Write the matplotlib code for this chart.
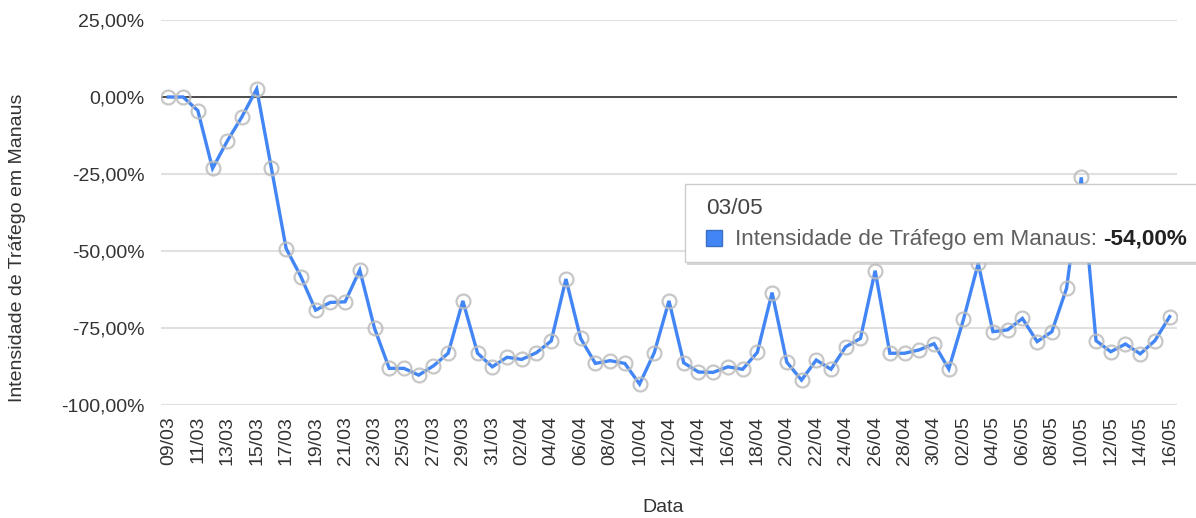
import matplotlib
matplotlib.use("Agg")
import matplotlib.pyplot as plt
import matplotlib.ticker as mticker
from matplotlib.patches import Rectangle
import pandas as pd

# ---- data ----
dates = pd.date_range("2020-03-09", "2020-05-16", freq="D")
labels = [d.strftime("%d/%m") for d in dates]

march = [0.0, 0.0, -4.4, -23.2, -14.3, -6.4, 2.6, -23.2, -49.2, -58.3, -69.2, -66.7,
         -66.5, -56.2, -75.1, -88.1, -88.1, -90.3, -87.3, -83.2, -66.2, -83.2, -87.6]
april = [-84.5, -85.2, -83.0, -79.2, -59.1, -78.4, -86.5, -85.6, -86.5, -93.2, -83.0,
         -66.2, -86.3, -89.3, -89.4, -87.6, -88.4, -82.9, -63.5, -86.1, -91.9, -85.4,
         -88.4, -81.1, -78.4, -56.4, -83.2, -83.2, -82.1, -80.1]
may = [-88.3, -72.2, -54.0, -76.2, -75.6, -71.9, -79.4, -76.2, -62.1, -26.1, -79.1,
       -82.7, -80.2, -83.4, -79.1, -71.3]
values = march + april + may

yticks = [25, 0, -25, -50, -75, -100]
series_name = "Intensidade de Tráfego em Manaus"
tooltip_date = "03/05"
tooltip_value = "-54,00%"

BLUE = "#4285F4"
FONT = "Liberation Sans"
TXT = "#333333"

fig = plt.figure(figsize=(11.96, 5.18), dpi=100)
W, H = 1196, 518
ax = fig.add_axes([161 / W, 1 - 405 / H, (1177 - 161) / W, (405 - 20) / H])

x = list(range(len(values)))
ax.plot(x, values, color=BLUE, lw=2.4, zorder=3, solid_joinstyle="miter")
ax.plot(x, values, ls="none", marker="o", ms=10, mfc="none", mec="#bdbdbd",
        mew=1.6, alpha=0.85, zorder=4)

ax.set_xlim(-0.5, len(values) - 0.5)
ax.set_ylim(-100, 25)
ax.set_yticks(yticks)
ax.yaxis.set_major_formatter(mticker.FuncFormatter(
    lambda v, p: f"{v:.2f}".replace(".", ",") + "%"))
ax.set_xticks(x[::2])
ax.set_xticklabels(labels[::2], rotation=90, fontsize=14, family=FONT, color=TXT)
for t in ax.get_yticklabels():
    t.set_fontsize(14)
    t.set_family(FONT)
    t.set_color(TXT)

ax.grid(axis="y", color="#e0e0e0", lw=1.5, zorder=0)
ax.axhline(0, color="#333333", lw=1.2, zorder=2)
for s in ax.spines.values():
    s.set_visible(False)
ax.tick_params(axis="both", length=0, pad=12)
ax.tick_params(axis="x", pad=8)

# axis titles placed at the reference positions
fig.text(663 / W, 1 - 507 / H, "Data", fontsize=14, family=FONT, color=TXT,
         ha="center", va="center")
fig.text(18 / W, 1 - 248 / H, series_name, fontsize=14, family=FONT, color=TXT,
         ha="center", va="center", rotation=90)

# ---- tooltip ----
def fx(px):
    return px / W

def fy(py):
    return 1 - py / H

shadow = Rectangle((fx(687), fy(265)), fx(1200) - fx(687), fy(186) - fy(265),
                   transform=fig.transFigure, facecolor="#bbbbbb", edgecolor="none",
                   alpha=0.6, zorder=9)
fig.add_artist(shadow)
box = Rectangle((fx(684.5), fy(262)), fx(1200) - fx(684.5), fy(184) - fy(262),
                transform=fig.transFigure, facecolor="white", edgecolor="#cccccc",
                lw=1, zorder=10)
fig.add_artist(box)
fig.text(fx(706), fy(208), tooltip_date, fontsize=16.2, family=FONT, color="#444444",
         va="center", ha="left", zorder=11)
sq = Rectangle((fx(706), fy(246)), fx(722) - fx(706), fy(230) - fy(246),
               transform=fig.transFigure, facecolor=BLUE, edgecolor="#3a6fc4",
               lw=1, zorder=11)
fig.add_artist(sq)
t1 = fig.text(fx(735), fy(239), series_name + ": ", fontsize=16.2, family=FONT,
              color="#5f5f5f", va="center", ha="left", zorder=11)
fig.canvas.draw()
bb = t1.get_window_extent()
fig.text(bb.x1 / W, fy(239), tooltip_value, fontsize=16.2, family=FONT,
         color="#222222", weight="bold", va="center", ha="left", zorder=11)

fig.savefig("out.png", dpi=100)
